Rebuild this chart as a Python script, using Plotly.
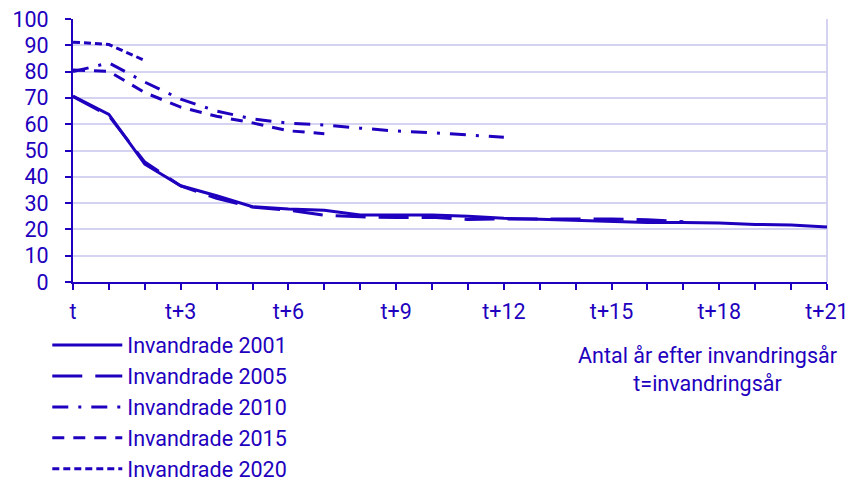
import plotly.graph_objects as go

years = list(range(22))
tick_vals = list(range(22))
tick_text = ["t" if i == 0 else (f"t+{i}" if i % 3 == 0 else "") for i in tick_vals]

inv2001 = [70.7, 63.7, 44.8, 36.6, 32.8, 28.6, 27.8, 27.3, 25.5, 25.5, 25.5, 25.0,
           24.2, 23.9, 23.5, 23.0, 22.6, 22.6, 22.4, 21.9, 21.7, 20.9]
inv2005 = [70.5, 63.2, 45.6, 36.5, 31.8, 28.5, 27.3, 25.4, 24.8, 24.5, 24.6, 23.8,
           24.0, 24.0, 23.8, 24.0, 23.7, 22.9]
inv2010 = [80.0, 83.3, 76.0, 69.5, 65.0, 62.0, 60.4, 59.7, 58.5, 57.4, 56.8, 55.9, 55.0]
inv2015 = [80.6, 80.1, 72.0, 66.5, 63.0, 60.5, 57.5, 56.4]
inv2020 = [91.2, 90.3, 84.2]

series = [
    ("Invandrade 2001", inv2001, "solid"),
    ("Invandrade 2005", inv2005, "30px,13px"),
    ("Invandrade 2010", inv2010, "16px,10px,3px,10px"),
    ("Invandrade 2015", inv2015, "12px,9px"),
    ("Invandrade 2020", inv2020, "7px,4px"),
]

BLUE = "#1e00be"
GRID = "#d4d4f2"
FONT = "Roboto"
FS = 21.5

fig = go.Figure()
for i, (name, vals, dash) in enumerate(series):
    fig.add_trace(go.Scatter(
        x=years[:len(vals)], y=vals, name=name, mode="lines",
        line=dict(color=BLUE, width=3, dash=dash),
    ))

PLOT_H = 481 - 11 - 207

fig.update_layout(
    width=855, height=481,
    margin=dict(l=65, r=36, t=11, b=207, autoexpand=False),
    paper_bgcolor="white", plot_bgcolor="white",
    font=dict(family=FONT, size=FS, color=BLUE),
    showlegend=True,
    legend=dict(
        x=-0.0341, y=-42.5 / PLOT_H, xanchor="left", yanchor="top",
        orientation="v", itemwidth=70,
        font=dict(family=FONT, size=FS, color=BLUE),
        bgcolor="rgba(0,0,0,0)",
    ),
    xaxis=dict(
        range=[0, 21], tickmode="array", tickvals=tick_vals, ticktext=tick_text,
        showgrid=False, zeroline=False,
        showline=True, linecolor=BLUE, linewidth=2,
        ticks="outside", ticklen=6, tickwidth=2, tickcolor=BLUE,
        ticklabelstandoff=3, ticklabeloverflow="allow",
        tickfont=dict(family=FONT, size=FS, color=BLUE),
    ),
    yaxis=dict(
        range=[0, 100], tickmode="array", tickvals=list(range(0, 101, 10)),
        showgrid=True, gridcolor=GRID, gridwidth=2, zeroline=False,
        showline=True, linecolor=BLUE, linewidth=2,
        ticks="outside", ticklen=6, tickwidth=2, tickcolor=BLUE,
        ticklabelstandoff=12, ticklabeloverflow="allow",
        tickfont=dict(family=FONT, size=FS, color=BLUE),
    ),
    shapes=[dict(type="line", xref="paper", yref="paper", x0=1, x1=1, y0=0, y1=1,
                 line=dict(color=GRID, width=2), layer="below")],
    annotations=[dict(
        text="Antal år efter invandringsår<br>t=invandringsår",
        xref="paper", yref="paper", x=0.842, y=-58.7 / PLOT_H, xanchor="center", yanchor="top",
        showarrow=False, align="center",
        font=dict(family=FONT, size=FS, color=BLUE),
    )],
)

fig.write_html("out.html")
